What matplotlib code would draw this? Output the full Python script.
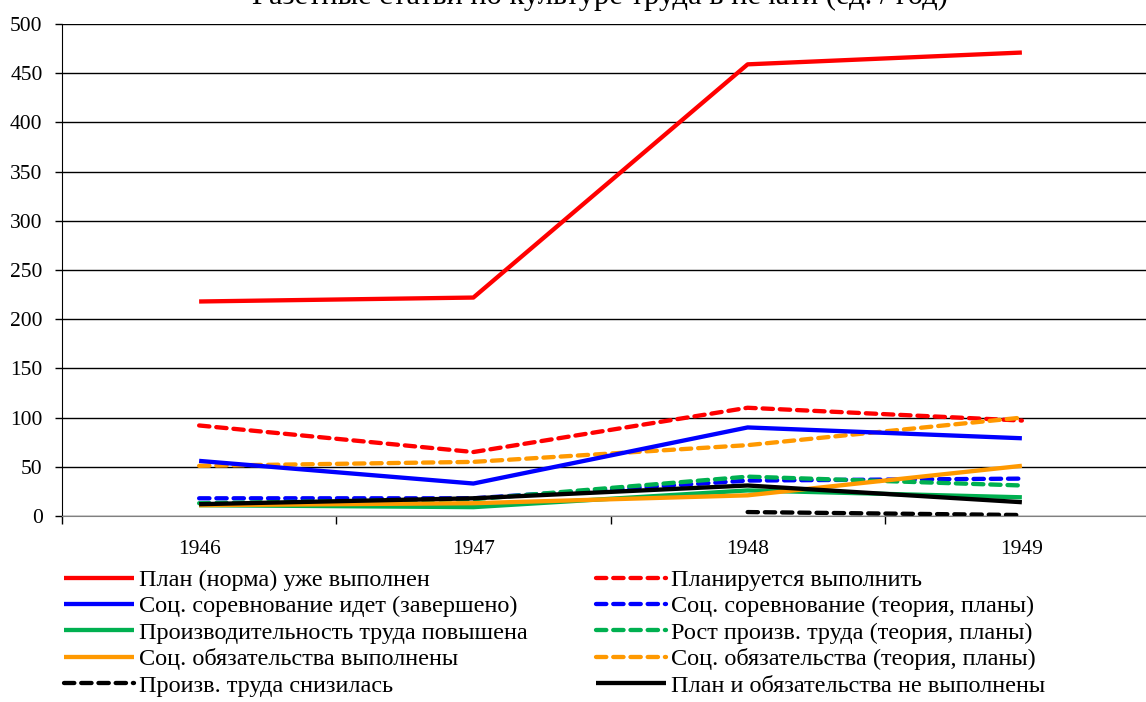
import matplotlib.pyplot as plt
import numpy as np

plt.rcParams['font.family'] = ['Liberation Serif', 'DejaVu Serif']

years = ['1946', '1947', '1948', '1949']

plan_done = [218, 222, 459, 471]
plan_future = [92, 65, 110, 97]
comp_done = [56, 33, 90, 79]
comp_theory = [18, 18, 36, 38]
prod_up = [11, 9, 26, 19]
prod_theory = [13, 17, 40, 31]
oblig_done = [11, 13, 21, 51]
oblig_theory = [51, 55, 72, 100]
prod_down = [np.nan, np.nan, 4, 1]
not_done = [12, 18, 31, 14]

series = [
    ('План (норма) уже выполнен', plan_done, '#ff0000', '-'),
    ('Соц. соревнование идет (завершено)', comp_done, '#0000ff', '-'),
    ('Производительность труда повышена', prod_up, '#00b050', '-'),
    ('Соц. обязательства выполнены', oblig_done, '#ff9900', '-'),
    ('Произв. труда снизилась', prod_down, '#000000', '--'),
    ('Планируется выполнить', plan_future, '#ff0000', '--'),
    ('Соц. соревнование (теория, планы)', comp_theory, '#0000ff', '--'),
    ('Рост произв. труда (теория, планы)', prod_theory, '#00b050', '--'),
    ('Соц. обязательства (теория, планы)', oblig_theory, '#ff9900', '--'),
    ('План и обязательства не выполнены', not_done, '#000000', '-'),
]

fig = plt.figure(figsize=(11.46, 7.02), dpi=100)
# axis runs off the right edge of the picture, as in the original
ax = fig.add_axes([62 / 1146, 1 - 516 / 702, 1097 / 1146, 492 / 702])

x = np.arange(len(years))
# draw order: dashed under solid roughly like the source
draw_order = [5, 8, 6, 7, 4, 1, 2, 3, 9, 0]
handles = {}
for i in draw_order:
    label, vals, color, ls = series[i]
    line, = ax.plot(x, vals, color=color, linewidth=3.1, linestyle=ls,
                    label=label, solid_capstyle='butt')
    if ls == '--':
        line.set_dashes((2.4, 1.6))
        line.set_dash_capstyle('round')
    handles[i] = line

ax.set_xlim(-0.5, 3.5)
ax.set_ylim(0, 500)
ax.set_yticks(np.arange(0, 501, 50))
ax.yaxis.grid(True, color='black', linewidth=1)
ax.set_axisbelow(True)

ax.set_xticks(x)
ax.set_xticklabels(years)
ax.set_xticks(np.arange(-0.5, 3.6, 1), minor=True)
ax.tick_params(axis='x', which='major', length=0, pad=17, labelsize=15.5)
ax.tick_params(axis='x', which='minor', length=6, width=1, direction='out')
ax.tick_params(axis='y', length=5, width=1, direction='out', pad=9, labelsize=15.5)

for s in ['top', 'right']:
    ax.spines[s].set_visible(False)
ax.spines['bottom'].set_color('#808080')
ax.spines['left'].set_color('black')

# title is mostly cut off at the top edge in the source
fig.text(600 / 1146, 1 - 4 / 702, 'Газетные статьи по культуре труда в печати (ед. / год)',
         ha='center', va='baseline', fontsize=22)

leg_style = dict(loc='upper left', frameon=False, fontsize=17.5, handlelength=2.9,
                 handletextpad=0.2, labelspacing=0.18, borderpad=0, borderaxespad=0)
fig.legend([handles[i] for i in range(5)], [s[0] for s in series[:5]],
           bbox_to_anchor=(64 / 1146, 1 - 569 / 702), **leg_style)
fig.legend([handles[i] for i in range(5, 10)], [s[0] for s in series[5:]],
           bbox_to_anchor=(596 / 1146, 1 - 569 / 702), **leg_style)

plt.savefig('out.png', dpi=100)
